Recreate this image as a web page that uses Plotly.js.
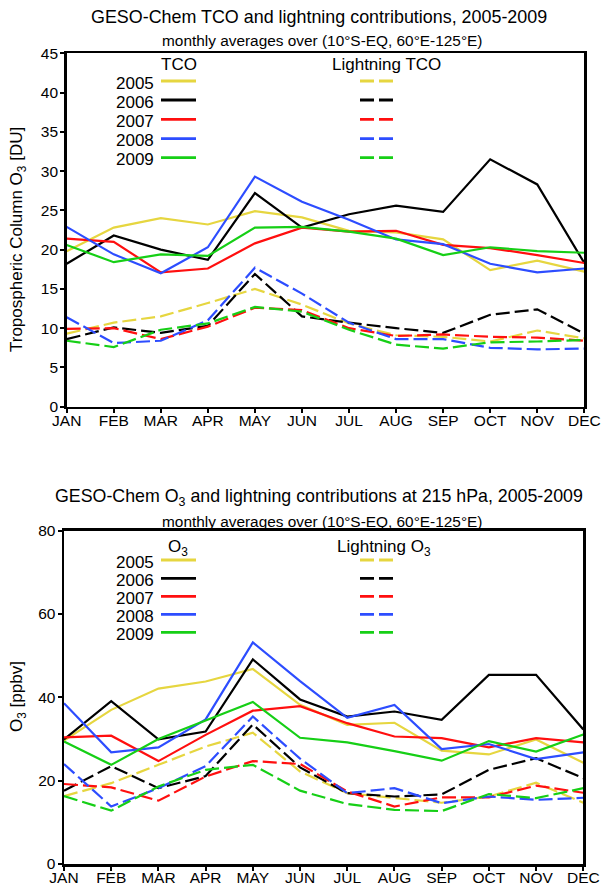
<!DOCTYPE html>
<html>
<head>
<meta charset="utf-8">
<script src="https://cdn.plot.ly/plotly-3.0.1.min.js"></script>
<style>html,body{margin:0;padding:0;background:#fff;}#chart{width:602px;height:887px;}</style>
</head>
<body>
<div id="chart"></div>
<script>
const months = ['JAN','FEB','MAR','APR','MAY','JUN','JUL','AUG','SEP','OCT','NOV','DEC'];
const years = ['2005','2006','2007','2008','2009'];
const colors = ['#e6d640','#000000','#ff0f0f','#2d4dff','#16cf16'];

// Top: Tropospheric column O3 [DU]
const tco2005 = [19.8,22.8,24.0,23.2,24.9,24.1,22.4,22.2,21.3,17.4,18.6,17.2];
const tco2006 = [18.2,21.8,20.0,18.7,27.2,22.8,24.5,25.6,24.8,31.5,28.3,18.3];
const tco2007 = [21.4,21.0,17.1,17.6,20.8,22.8,22.3,22.4,20.6,20.2,19.3,18.3];
const tco2008 = [22.9,19.4,17.0,20.3,29.3,26.1,23.8,21.3,20.7,18.2,17.1,17.6];
const tco2009 = [20.6,18.4,19.4,19.2,22.8,22.9,22.3,21.4,19.3,20.3,19.8,19.6];
const ltco2005 = [9.3,10.7,11.5,13.2,15.0,13.0,10.6,9.1,8.9,8.3,9.7,8.7];
const ltco2006 = [8.6,10.1,9.4,10.3,16.9,11.5,10.7,10.0,9.4,11.7,12.4,9.3];
const ltco2007 = [9.9,10.0,8.6,10.2,12.6,12.3,10.0,9.0,9.2,8.9,8.8,8.4];
const ltco2008 = [11.4,8.1,8.4,11.0,17.7,14.4,10.7,8.6,8.6,7.5,7.3,7.4];
const ltco2009 = [8.4,7.6,9.8,10.6,12.7,12.1,9.8,7.9,7.4,8.2,8.3,8.5];

// Bottom: O3 at 215 hPa [ppbv]
const o3_2005 = [29.6,37.0,42.1,43.8,46.8,38.2,33.4,33.9,27.2,26.3,29.9,24.3];
const o3_2006 = [29.9,39.1,29.9,31.8,49.1,39.5,35.4,36.6,34.6,45.4,45.4,32.3];
const o3_2007 = [30.4,30.8,24.7,31.0,36.8,37.9,33.8,30.6,30.2,28.0,30.2,29.2];
const o3_2008 = [38.6,26.8,28.0,34.7,53.2,43.9,35.1,38.2,27.6,28.8,25.2,26.8];
const o3_2009 = [29.4,23.8,30.0,34.4,38.9,30.3,29.2,27.1,24.8,29.5,27.0,31.1];
const lo3_2005 = [16.3,19.4,23.8,28.2,31.5,22.2,17.0,15.8,14.7,16.2,19.5,14.7];
const lo3_2006 = [17.6,23.5,18.2,21.1,33.5,23.2,17.0,16.2,16.7,22.6,25.4,20.6];
const lo3_2007 = [19.2,18.4,15.2,21.0,24.7,24.0,17.4,13.8,16.0,16.0,18.8,17.1];
const lo3_2008 = [24.0,13.8,18.2,23.5,35.4,25.3,17.0,18.2,14.6,16.2,15.4,15.9];
const lo3_2009 = [16.3,12.8,18.6,22.6,23.8,17.6,14.4,13.0,12.7,16.8,15.8,18.2];

const topSolid = [tco2005,tco2006,tco2007,tco2008,tco2009];
const topDash = [ltco2005,ltco2006,ltco2007,ltco2008,ltco2009];
const botSolid = [o3_2005,o3_2006,o3_2007,o3_2008,o3_2009];
const botDash = [lo3_2005,lo3_2006,lo3_2007,lo3_2008,lo3_2009];

const FONT = 'Liberation Sans, Arial, sans-serif';
const DASH = '14px,5px';
const traces = [];
function add(arr, xa, ya, dashed){
  arr.forEach((ys,i)=>{
    traces.push({x:months, y:ys, xaxis:xa, yaxis:ya, type:'scatter', mode:'lines',
      line:{color:colors[i], width:2.2, dash: dashed?DASH:'solid'}, showlegend:false, hoverinfo:'skip'});
  });
}
add(topDash,'x','y',true); add(topSolid,'x','y',false);
add(botDash,'x2','y2',true); add(botSolid,'x2','y2',false);

const W=602, H=887;
const px = v=>v/W, py = v=>1-v/H;

const axisCommon = {showgrid:false, zeroline:false, showline:true, linecolor:'#000', linewidth:2.5,
  mirror:true, ticks:'outside', ticklen:4, tickwidth:2, tickcolor:'#000',
  tickfont:{family:FONT, size:15.5, color:'#000'}};
const xCommon = Object.assign({}, axisCommon, {ticklabelstandoff:-6});
const yCommon = Object.assign({}, axisCommon, {ticklabelstandoff:-1});

const annotations = [];
const shapes = [];
function txt(x,y,text,size,opts){
  annotations.push(Object.assign({xref:'paper',yref:'paper',x:px(x),y:py(y),text:text,showarrow:false,
    font:{family:FONT,size:size,color:'#000'},xanchor:'center',yanchor:'middle'},opts||{}));
}
txt(319,17,'GESO-Chem TCO and lightning contributions, 2005-2009',17.9);
txt(321.5,41,'monthly averages over (10°S-EQ, 60°E-125°E)',15.4);
txt(319,497,'GESO-Chem O<sub>3</sub> and lightning contributions at 215 hPa, 2005-2009',17.8);
txt(321.5,521,'monthly averages over (10°S-EQ, 60°E-125°E)',15.4);
txt(18,240,'Tropospheric Column O<sub>3</sub> [DU]',17,{textangle:-90});
txt(18,697,'O<sub>3</sub> [ppbv]',17,{textangle:-90});

// legends
function legend(headerSolid, headerDash, hy, rows, hx1, hx2){
  txt(hx1,hy,headerSolid,17);
  txt(hx2,hy,headerDash,17);
  rows.forEach((ry,i)=>{
    txt(156,ry+2,years[i],17,{xanchor:'right'});
    shapes.push({type:'line',xref:'paper',yref:'paper',x0:px(161),x1:px(196),y0:py(ry),y1:py(ry),
      line:{color:colors[i],width:2.8}});
    shapes.push({type:'line',xref:'paper',yref:'paper',x0:px(360),x1:px(396),y0:py(ry),y1:py(ry),
      line:{color:colors[i],width:2.8,dash:DASH}});
  });
}
legend('TCO','Lightning TCO',65,[81,100,119.3,138.7,157.7],178.5,386);
legend('O<sub>3</sub>','Lightning O<sub>3</sub>',548,[560,578.3,596.3,614.3,632.3],178,383.5);

const layout = {
  width:W, height:H, margin:{l:0,r:0,t:0,b:0}, paper_bgcolor:'#fff', plot_bgcolor:'#fff',
  showlegend:false,
  xaxis: Object.assign({}, xCommon, {domain:[px(66.7),px(584.3)], range:[0,11], type:'category', anchor:'y'}),
  yaxis: Object.assign({}, yCommon, {domain:[py(406.7),py(53.3)], range:[0,45], dtick:5, tick0:0, anchor:'x'}),
  xaxis2: Object.assign({}, xCommon, {domain:[px(64),px(583.3)], range:[0,11], type:'category', anchor:'y2'}),
  yaxis2: Object.assign({}, yCommon, {domain:[py(864),py(530.7)], range:[0,80], dtick:20, tick0:0, anchor:'x2'}),
  annotations: annotations, shapes: shapes
};
Plotly.newPlot('chart', traces, layout, {staticPlot:true, displayModeBar:false});
</script>
</body>
</html>
